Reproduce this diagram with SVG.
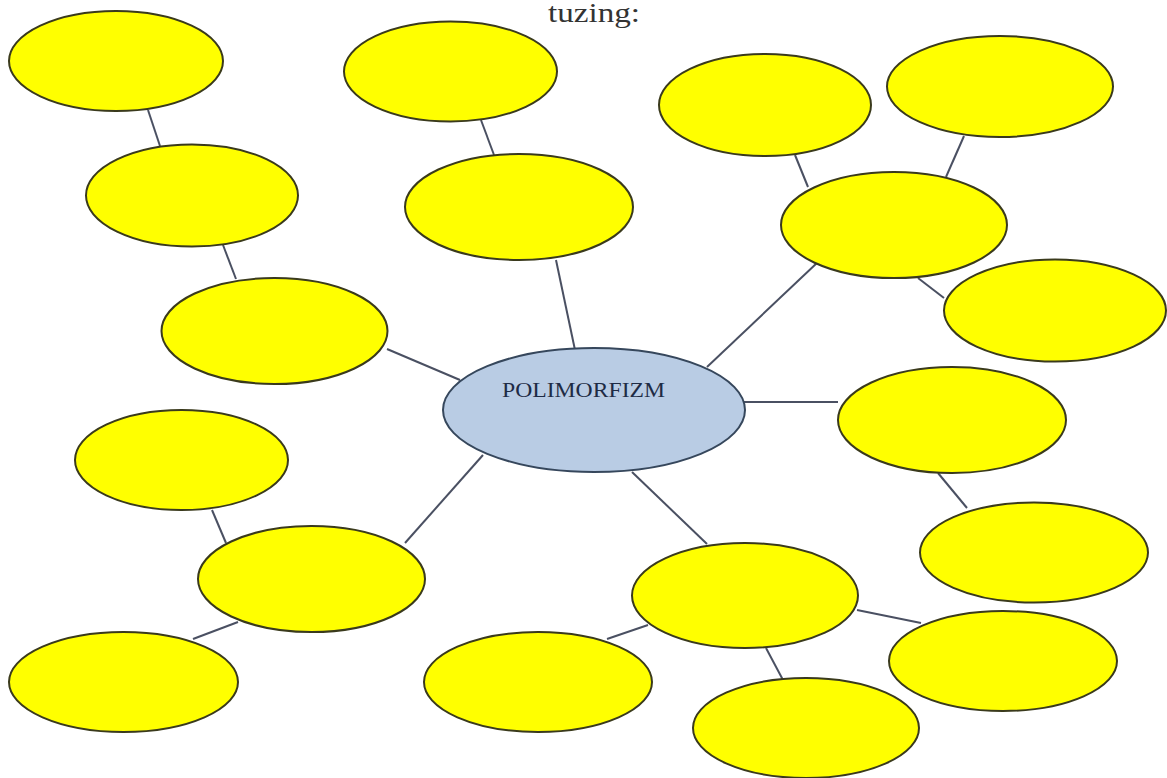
<svg xmlns="http://www.w3.org/2000/svg" width="1167" height="778" viewBox="0 0 1167 778">
  <style>
    .bubble { fill: #ffff00; stroke: #3a3a1c; stroke-width: 2; }
    .hub { fill: #b9cce4; stroke: #36475c; stroke-width: 2; }
    .link { stroke: #4a5062; stroke-width: 2; fill: none; }
    .title { font-family: "Liberation Serif", "Times New Roman", serif; fill: #333333; }
    .label { font-family: "Liberation Serif", "Times New Roman", serif; fill: #1e2b45; }
  </style>
  <rect width="1167" height="778" fill="#ffffff"/>

  <text class="title" x="548" y="22" font-size="27" textLength="92" lengthAdjust="spacingAndGlyphs">tuzing:</text>

  <!-- connectors -->
  <g id="connectors">
    <line class="link" x1="148" y1="110" x2="160" y2="146"/>
    <line class="link" x1="223" y1="245" x2="236" y2="279"/>
    <line class="link" x1="387" y1="349" x2="460" y2="380"/>
    <line class="link" x1="481" y1="120" x2="494" y2="155"/>
    <line class="link" x1="556" y1="260" x2="575" y2="350"/>
    <line class="link" x1="795" y1="155" x2="808" y2="187"/>
    <line class="link" x1="964" y1="136" x2="946" y2="177"/>
    <line class="link" x1="818" y1="262" x2="707" y2="367"/>
    <line class="link" x1="918" y1="278" x2="944" y2="298"/>
    <line class="link" x1="744" y1="402" x2="838" y2="402"/>
    <line class="link" x1="938" y1="473" x2="967" y2="508"/>
    <line class="link" x1="212" y1="510" x2="226" y2="543"/>
    <line class="link" x1="483" y1="455" x2="405" y2="543"/>
    <line class="link" x1="238" y1="622" x2="193" y2="639"/>
    <line class="link" x1="632" y1="472" x2="707" y2="544"/>
    <line class="link" x1="648" y1="625" x2="607" y2="639"/>
    <line class="link" x1="766" y1="648" x2="783" y2="680"/>
    <line class="link" x1="857" y1="610" x2="921" y2="623"/>
  </g>

  <!-- central node -->
  <g id="node-polimorfizm">
    <ellipse class="hub" cx="594" cy="410" rx="151" ry="62"/>
    <text class="label" x="502" y="397" font-size="22" textLength="163" lengthAdjust="spacingAndGlyphs">POLIMORFIZM</text>
  </g>

  <!-- left upper branch -->
  <g id="node-l1"><ellipse class="bubble" cx="116" cy="61" rx="107" ry="50"/></g>
  <g id="node-l2"><ellipse class="bubble" cx="192" cy="195.5" rx="106" ry="51"/></g>
  <g id="node-l3"><ellipse class="bubble" cx="274.5" cy="331" rx="113" ry="53"/></g>

  <!-- top middle branch -->
  <g id="node-t1"><ellipse class="bubble" cx="450.5" cy="71.5" rx="106.5" ry="50"/></g>
  <g id="node-t2"><ellipse class="bubble" cx="519" cy="207" rx="114" ry="53"/></g>

  <!-- upper right branch -->
  <g id="node-r1"><ellipse class="bubble" cx="765" cy="105" rx="106" ry="51"/></g>
  <g id="node-r2"><ellipse class="bubble" cx="1000" cy="86.5" rx="113" ry="50.5"/></g>
  <g id="node-r3"><ellipse class="bubble" cx="894" cy="225" rx="113" ry="53"/></g>
  <g id="node-r4"><ellipse class="bubble" cx="1055" cy="310.5" rx="111" ry="51"/></g>

  <!-- right branch -->
  <g id="node-e1"><ellipse class="bubble" cx="952" cy="420" rx="114" ry="53"/></g>
  <g id="node-e2"><ellipse class="bubble" cx="1034" cy="552.5" rx="114" ry="50"/></g>

  <!-- lower left branch -->
  <g id="node-b1"><ellipse class="bubble" cx="181.5" cy="460" rx="106.5" ry="50"/></g>
  <g id="node-b2"><ellipse class="bubble" cx="311.5" cy="579" rx="113.5" ry="53"/></g>
  <g id="node-b3"><ellipse class="bubble" cx="123.5" cy="682" rx="114.5" ry="50"/></g>

  <!-- lower right branch -->
  <g id="node-s1"><ellipse class="bubble" cx="745" cy="595.5" rx="113" ry="52.5"/></g>
  <g id="node-s2"><ellipse class="bubble" cx="538" cy="682" rx="114" ry="50"/></g>
  <g id="node-s3"><ellipse class="bubble" cx="806" cy="728" rx="113" ry="50"/></g>
  <g id="node-s4"><ellipse class="bubble" cx="1003" cy="661" rx="114" ry="50"/></g>
</svg>
